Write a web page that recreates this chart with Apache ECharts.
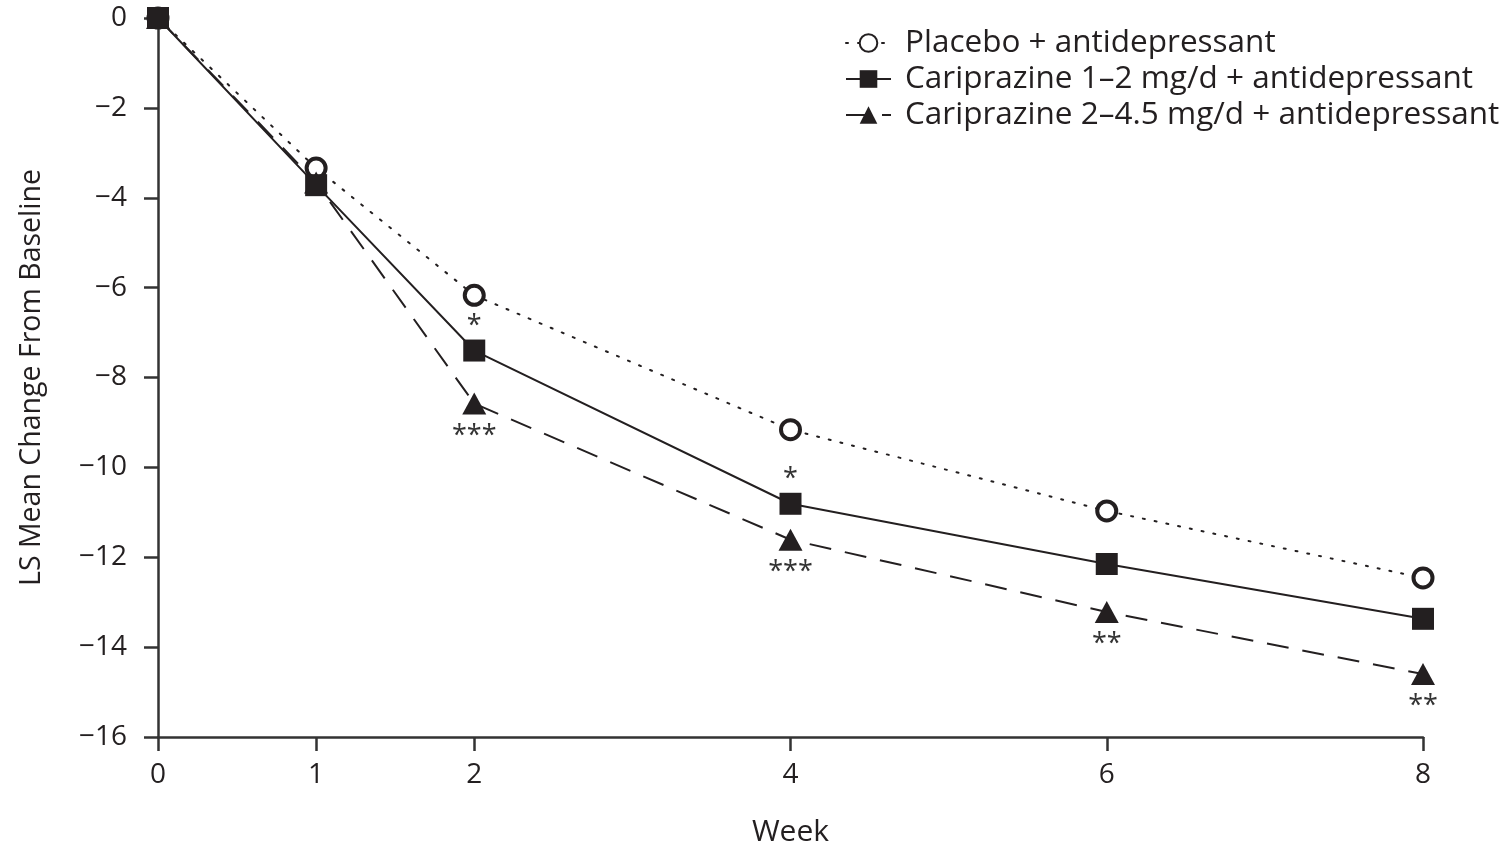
<!DOCTYPE html>
<html>
<head>
<meta charset="utf-8">
<style>html,body{margin:0;padding:0;background:#fff}#c{width:1512px;height:849px}</style>
<script src="https://cdn.jsdelivr.net/npm/echarts@6/dist/echarts.min.js"></script>
</head>
<body>
<div id="c"></div>
<script>
const weeks = [0, 1, 2, 4, 6, 8];
const yTicks = [0, -2, -4, -6, -8, -10, -12, -14, -16];
const namePlacebo = 'Placebo + antidepressant';
const nameLow = 'Cariprazine 1\u20132 mg/d + antidepressant';
const nameHigh = 'Cariprazine 2\u20134.5 mg/d + antidepressant';
const placebo = [0, -3.34, -6.17, -9.16, -10.97, -12.46];
const caripLow = [0, -3.72, -7.40, -10.81, -12.15, -13.37];
const caripHigh = [0, -3.66, -8.58, -11.61, -13.22, -14.60];
const sigLow = ['', '', '*', '*', '', ''];
const sigHigh = ['', '', '***', '***', '**', '**'];

const INK = '#231f20';
const FONT = 'Open Sans';

function build(vals, sig, pos) {
  return vals.map((v, i) => {
    const item = { value: [weeks[i], v] };
    if (sig && sig[i]) {
      item.label = { show: true, formatter: sig[i], position: pos };
    }
    return item;
  });
}

const chart = echarts.init(document.getElementById('c'));
chart.setOption({
  animation: false,
  textStyle: { fontFamily: FONT, color: INK },
  grid: { left: 158, right: 89, top: 18, bottom: 112, containLabel: false, outerBoundsMode: 'none' },
  legend: {
    orient: 'vertical',
    left: 845,
    top: 27,
    padding: 0,
    itemWidth: 45,
    itemHeight: 22,
    itemGap: 4,
    textStyle: { fontFamily: FONT, fontSize: 31.5, color: INK, padding: [0, 0, 0, 9] },
    data: [namePlacebo, nameLow, nameHigh]
  },
  xAxis: {
    type: 'value', min: 0, max: 8,
    name: 'Week', nameLocation: 'middle', nameGap: 80,
    nameTextStyle: { fontFamily: FONT, fontSize: 30, color: INK },
    splitLine: { show: false },
    axisLine: { onZero: false, lineStyle: { color: '#333', width: 2.5 } },
    axisTick: { show: true, inside: false, length: 14, lineStyle: { color: '#333', width: 2.5 }, customValues: weeks },
    axisLabel: { fontFamily: FONT, fontSize: 28, color: INK, margin: 24, customValues: weeks }
  },
  yAxis: {
    type: 'value', min: -16, max: 0, interval: 2,
    name: 'LS Mean Change From Baseline', nameLocation: 'middle', nameGap: 112, nameRotate: 90,
    nameTextStyle: { fontFamily: FONT, fontSize: 28.5, color: INK },
    splitLine: { show: false },
    axisLine: { show: true, onZero: false, lineStyle: { color: '#333', width: 2.5 } },
    axisTick: { show: true, inside: false, length: 14, lineStyle: { color: '#333', width: 2.5 } },
    axisLabel: { fontFamily: FONT, fontSize: 28, color: INK, margin: 31,
      customValues: yTicks, formatter: v => (v < 0 ? '\u2212' + Math.abs(v) : String(v)) }
  },
  series: [
    {
      name: namePlacebo, type: 'line', data: build(placebo),
      symbol: 'circle', symbolSize: 19,
      itemStyle: { color: '#fff', borderColor: INK, borderWidth: 4 },
      lineStyle: { color: INK, width: 2, type: [2, 10], cap: 'round' },
      z: 2
    },
    {
      name: nameHigh, type: 'line', data: build(caripHigh, sigHigh, 'bottom'),
      symbol: 'triangle', symbolSize: [24, 22],
      itemStyle: { color: INK },
      lineStyle: { color: INK, width: 2, type: [22, 14] },
      label: { fontFamily: FONT, fontSize: 27, color: '#333', distance: 8 },
      z: 3
    },
    {
      name: nameLow, type: 'line', data: build(caripLow, sigLow, 'top'),
      symbol: 'rect', symbolSize: 22,
      itemStyle: { color: INK },
      lineStyle: { color: INK, width: 2, type: 'solid' },
      label: { fontFamily: FONT, fontSize: 27, color: '#333', distance: 0 },
      z: 4
    }
  ]
});
</script>
</body>
</html>
